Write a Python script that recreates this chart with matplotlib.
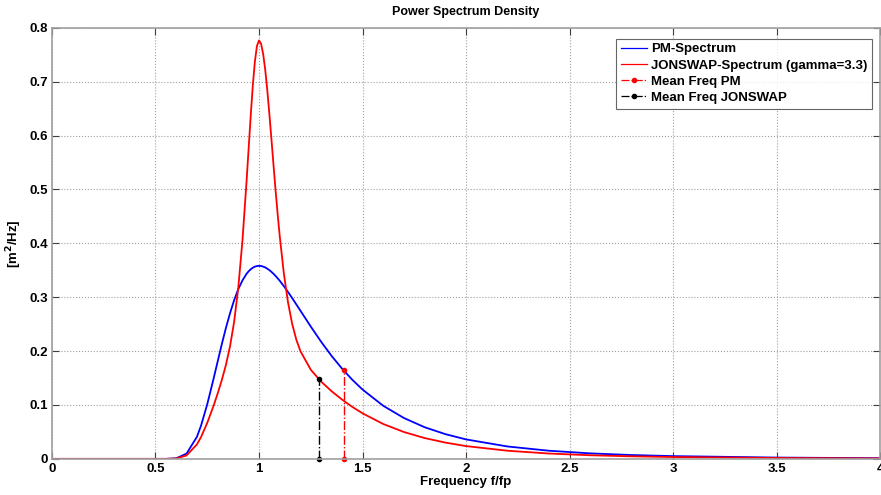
import matplotlib.pyplot as plt

# frequency grid f/fp and spectral values
freq = [0.0, 0.4, 0.5, 0.55, 0.6, 0.65, 0.7, 0.72, 0.75, 0.78, 0.8, 0.82, 0.84, 0.86,
        0.88, 0.9, 0.92, 0.94, 0.95, 0.96, 0.97, 0.98, 0.99, 1.0, 1.01, 1.02, 1.03,
        1.04, 1.05, 1.06, 1.07, 1.08, 1.09, 1.1, 1.12, 1.14, 1.16, 1.18, 1.2, 1.25,
        1.3, 1.35, 1.4, 1.45, 1.5, 1.6, 1.7, 1.8, 1.9, 2.0, 2.2, 2.4, 2.6, 2.8, 3.0,
        3.5, 4.0]
pm = [0.0, 0.0, 0.0, 0.0, 0.0010, 0.0098, 0.0408, 0.0617, 0.1014, 0.1479, 0.1803,
      0.2124, 0.2427, 0.2702, 0.2947, 0.3150, 0.3311, 0.3435, 0.3481, 0.3518, 0.3547,
      0.3566, 0.3578, 0.3581, 0.3579, 0.3567, 0.3552, 0.3529, 0.3502, 0.3470, 0.3434,
      0.3394, 0.3351, 0.3305, 0.3205, 0.3097, 0.2984, 0.2867, 0.2749, 0.2455, 0.2173,
      0.1913, 0.1679, 0.1470, 0.1286, 0.0985, 0.0758, 0.0587, 0.0459, 0.0361, 0.0230,
      0.0151, 0.0102, 0.0071, 0.0051, 0.0024, 0.0012]
jonswap = [0.0, 0.0, 0.0, 0.0, 0.0007, 0.0064, 0.0268, 0.0405, 0.0668, 0.0980, 0.1209,
           0.1458, 0.1741, 0.2087, 0.2548, 0.3182, 0.4049, 0.5160, 0.5768, 0.6371,
           0.6926, 0.7371, 0.7663, 0.7764, 0.7703, 0.7512, 0.7220, 0.6839, 0.6401,
           0.5930, 0.5452, 0.4984, 0.4542, 0.4135, 0.3440, 0.2905, 0.2507, 0.2214,
           0.1998, 0.1654, 0.1434, 0.1257, 0.1103, 0.0966, 0.0845, 0.0647, 0.0498,
           0.0386, 0.0302, 0.0237, 0.0151, 0.0099, 0.0067, 0.0047, 0.0034, 0.0016,
           0.0008]

# mean frequencies and spectral value there
mean_pm = (1.41, 0.165)
mean_js = (1.29, 0.149)

plt.rcParams['font.family'] = ['Liberation Sans', 'DejaVu Sans']
plt.rcParams['font.weight'] = 'bold'

fig = plt.figure(figsize=(8.81, 4.95), dpi=100)
ax = fig.add_axes([0.059, 0.073, 0.94, 0.871])

ax.plot(freq, pm, color='#0000ff', lw=1.3, label='PM-Spectrum')
ax.plot(freq, jonswap, color='#ff0000', lw=1.3, label='JONSWAP-Spectrum (gamma=3.3)')
ax.plot([mean_pm[0], mean_pm[0]], [0, mean_pm[1]], color='#ff0000', ls='-.', lw=1.0,
        marker='.', markersize=6, clip_on=False, label='Mean Freq PM')
ax.plot([mean_js[0], mean_js[0]], [0, mean_js[1]], color='black', ls='-.', lw=1.0,
        marker='.', markersize=6, clip_on=False, label='Mean Freq JONSWAP')

ax.set_xlim(0, 4)
ax.set_ylim(0, 0.8)
ax.set_xticks([0, 0.5, 1, 1.5, 2, 2.5, 3, 3.5, 4])
ax.set_xticklabels(['0', '0.5', '1', '1.5', '2', '2.5', '3', '3.5', '4'])
ax.set_yticks([0, 0.1, 0.2, 0.3, 0.4, 0.5, 0.6, 0.7, 0.8])
ax.set_yticklabels(['0', '0.1', '0.2', '0.3', '0.4', '0.5', '0.6', '0.7', '0.8'])
ax.tick_params(direction='in', length=5, width=0.8, color='#404040',
               labelsize=9.5, top=True, right=True, pad=3)
ax.grid(True, ls=':', color='#a0a0a0', lw=0.8)
for s in ax.spines.values():
    s.set_color('#a0a0a0')
    s.set_linewidth(1.2)

ax.set_title('Power Spectrum Density', fontsize=9, fontweight='bold', pad=9)
ax.set_xlabel('Frequency f/fp', fontsize=9.5, fontweight='bold', labelpad=1)
ax.set_ylabel('[m$^\\mathbf{2}$/Hz]', fontsize=9.5, fontweight='bold', labelpad=4)

leg = ax.legend(loc='upper right', fontsize=9.5, handlelength=2.0, handletextpad=0.3,
                borderpad=0.35, labelspacing=0.3, fancybox=False,
                bbox_to_anchor=(0.9985, 0.99))
leg.get_frame().set_edgecolor('#404040')
leg.get_frame().set_linewidth(0.8)
for h in leg.get_lines():
    h.set_linewidth(0.9)

fig.savefig('out.png', dpi=100)
